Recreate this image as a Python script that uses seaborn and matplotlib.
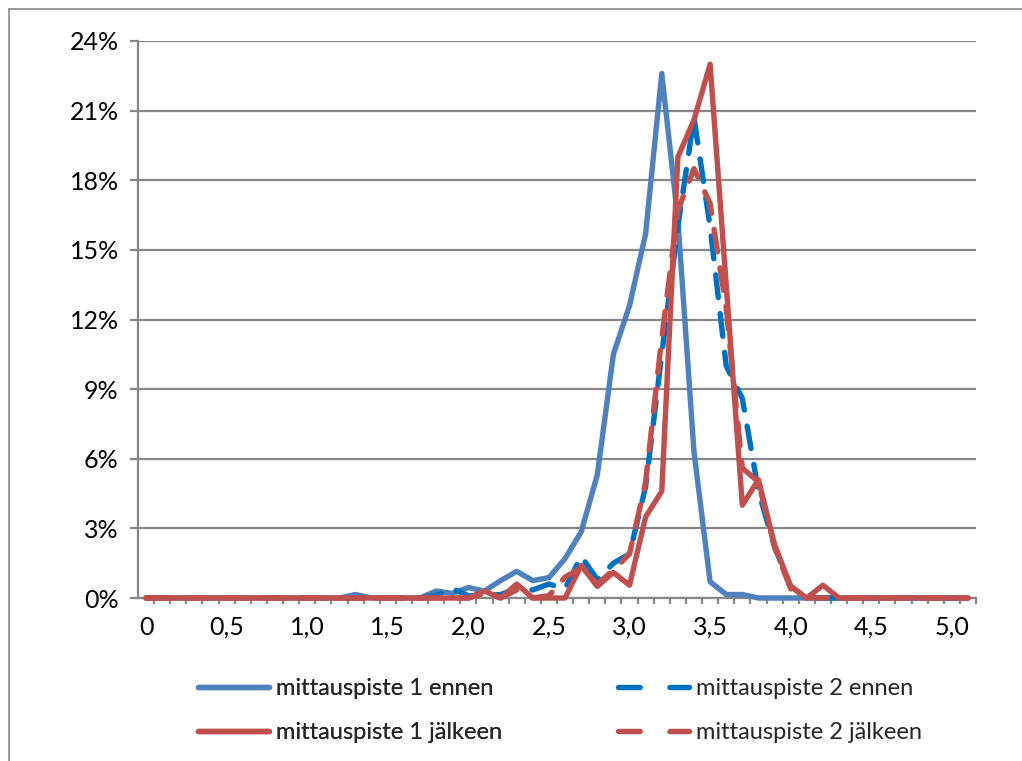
import matplotlib
matplotlib.use("Agg")
import matplotlib.pyplot as plt
import seaborn as sns
import pandas as pd
from matplotlib.lines import Line2D

# ---- data ----
categories = [0.0, 0.1, 0.2, 0.3, 0.4, 0.5, 0.6, 0.7, 0.8, 0.9,
              1.0, 1.1, 1.2, 1.3, 1.4, 1.5, 1.6, 1.7, 1.8, 1.9,
              2.0, 2.1, 2.2, 2.3, 2.4, 2.5, 2.6, 2.7, 2.8, 2.9,
              3.0, 3.1, 3.2, 3.3, 3.4, 3.5, 3.6, 3.7, 3.8, 3.9,
              4.0, 4.1, 4.2, 4.3, 4.4, 4.5, 4.6, 4.7, 4.8, 4.9,
              5.0, 5.1]

mp1_ennen = [0, 0, 0, 0, 0, 0, 0, 0, 0, 0,
             0, 0, 0, 0.15, 0, 0, 0, 0, 0.3, 0.2,
             0.45, 0.3, 0.75, 1.15, 0.75, 0.88, 1.7, 2.85, 5.3, 10.5,
             12.6, 15.7, 22.6, 16.3, 6.3, 0.7, 0.15, 0.15, 0, 0,
             0, 0, 0, 0, 0, 0, 0, 0, 0, 0,
             0, 0]

mp2_ennen = [0, 0, 0, 0, 0, 0, 0, 0, 0, 0,
             0, 0, 0, 0, 0, 0, 0, 0, 0.1, 0.4,
             0.1, 0.1, 0.15, 0.4, 0.35, 0.6, 0.4, 1.8, 0.8, 1.5,
             1.9, 4.8, 10.5, 16.0, 20.7, 16.0, 10.0, 8.6, 4.6, 2.2,
             0.5, 0, 0, 0, 0, 0, 0, 0, 0, 0,
             0, 0]

mp1_jalkeen = [0, 0, 0, 0, 0, 0, 0, 0, 0, 0,
               0, 0, 0, 0, 0, 0, 0, 0, 0, 0,
               0, 0.3, 0, 0.6, 0, 0, 0, 1.4, 0.5, 1.1,
               0.55, 3.5, 4.6, 19.0, 20.6, 23.0, 13.5, 4.0, 5.1, 2.3,
               0.5, 0, 0.55, 0, 0, 0, 0, 0, 0, 0,
               0, 0]

mp2_jalkeen = [0, 0, 0, 0, 0, 0, 0, 0, 0, 0,
               0, 0, 0, 0, 0, 0, 0, 0, 0, 0,
               0, 0.2, 0, 0.35, 0, 0.1, 0.9, 1.3, 0.6, 1.2,
               1.9, 5.0, 11.2, 16.7, 18.5, 17.0, 12.5, 5.6, 5.0, 2.2,
               0.4, 0, 0, 0, 0, 0, 0, 0, 0, 0,
               0, 0]

series_names = ["mittauspiste 1 ennen", "mittauspiste 2 ennen",
                "mittauspiste 1 jälkeen", "mittauspiste 2 jälkeen"]
series_values = [mp1_ennen, mp2_ennen, mp1_jalkeen, mp2_jalkeen]

x_tick_values = [0.0, 0.5, 1.0, 1.5, 2.0, 2.5, 3.0, 3.5, 4.0, 4.5, 5.0]
x_tick_labels = ["0", "0,5", "1,0", "1,5", "2,0", "2,5", "3,0", "3,5", "4,0", "4,5", "5,0"]
y_tick_values = [0, 3, 6, 9, 12, 15, 18, 21, 24]
y_tick_labels = ["0%", "3%", "6%", "9%", "12%", "15%", "18%", "21%", "24%"]

# ---- styles ----
palette = {"mittauspiste 1 ennen": "#4F81BD",
           "mittauspiste 2 ennen": "#0070C0",
           "mittauspiste 1 jälkeen": "#C0504D",
           "mittauspiste 2 jälkeen": "#C0504D"}
dash_pat = (4.2, 3.0)
legend_dash_pat = (4.0, 5.5)
dashes = {"mittauspiste 1 ennen": "",
          "mittauspiste 2 ennen": dash_pat,
          "mittauspiste 1 jälkeen": "",
          "mittauspiste 2 jälkeen": dash_pat}

rows = []
for name, vals in zip(series_names, series_values):
    for c, v in zip(categories, vals):
        rows.append({"x": c, "arvo": v, "sarja": name})
df = pd.DataFrame(rows)

sns.set_theme(style="white")
plt.rcParams['font.family'] = ['Lato', 'DejaVu Sans']

W, H = 1022, 761
fig = plt.figure(figsize=(W / 100, H / 100), dpi=100)
fig.patch.set_facecolor("white")
L, R, T, B = 138, 976, 41, 598
ax = fig.add_axes([L / W, 1 - B / H, (R - L) / W, (B - T) / H])

LW = 3.9
sns.lineplot(data=df, x="x", y="arvo", hue="sarja", style="sarja",
             hue_order=series_names, style_order=series_names,
             palette=palette, dashes=dashes, linewidth=LW,
             solid_capstyle="round", dash_capstyle="round",
             solid_joinstyle="round", legend=False, ax=ax,
             zorder=3, clip_on=False)

gray = "#878787"
ax.set_xlim(-0.05, 5.15)
ax.set_ylim(0, 24)
ax.set_xlabel("")
ax.set_ylabel("")
ax.set_yticks(y_tick_values)
ax.set_yticklabels(y_tick_labels)
ax.set_xticks(x_tick_values)
ax.set_xticklabels(x_tick_labels)
ax.set_xticks([-0.05 + 0.1 * k for k in range(1, 53)], minor=True)

ax.yaxis.grid(True, color=gray, linewidth=1.6)
ax.xaxis.grid(False)
ax.set_axisbelow(True)
for s in ["top", "right"]:
    ax.spines[s].set_visible(False)
for s in ["left", "bottom"]:
    ax.spines[s].set_color(gray)
    ax.spines[s].set_linewidth(1.6)
    ax.spines[s].set_zorder(2)

FS = 18
LFS = 17
ax.tick_params(axis="y", which="major", direction="out", length=5.8, width=1.6,
               color=gray, pad=8, labelsize=FS, labelcolor="black", left=True)
ax.tick_params(axis="x", which="major", length=0, pad=13, labelsize=FS,
               labelcolor="black", bottom=True)
ax.tick_params(axis="x", which="minor", direction="out", length=4.3, width=1.6,
               color=gray, bottom=True)

# chart frame (left and top edges visible)
fig.add_artist(Line2D([9 / W, 9 / W], [0, 1 - 9 / H], transform=fig.transFigure,
                      color=gray, linewidth=1.2))
fig.add_artist(Line2D([9 / W, 1], [1 - 9 / H, 1 - 9 / H], transform=fig.transFigure,
                      color=gray, linewidth=1.2))

# legend: two columns, built from the drawn lines
lines = ax.get_lines()[:4]
handles = []
for ln in lines:
    h = Line2D([], [], color=ln.get_color(), linewidth=LW,
               solid_capstyle="round", dash_capstyle="round")
    if ln.get_linestyle() not in ("-", "solid"):
        h.set_dashes(legend_dash_pat)
    handles.append(h)

common = dict(loc="upper left", frameon=False, fontsize=LFS, borderpad=0,
              borderaxespad=0, handlelength=3.0, handletextpad=0.3,
              labelspacing=0.98)
leg1 = fig.legend([handles[0], handles[2]], [series_names[0], series_names[2]],
                  bbox_to_anchor=(198 / W, 1 - 678 / H), **common)
fig.add_artist(leg1)
fig.legend([handles[1], handles[3]], [series_names[1], series_names[3]],
           bbox_to_anchor=(618 / W, 1 - 678 / H), **common)

fig.savefig("out.png", dpi=100)
